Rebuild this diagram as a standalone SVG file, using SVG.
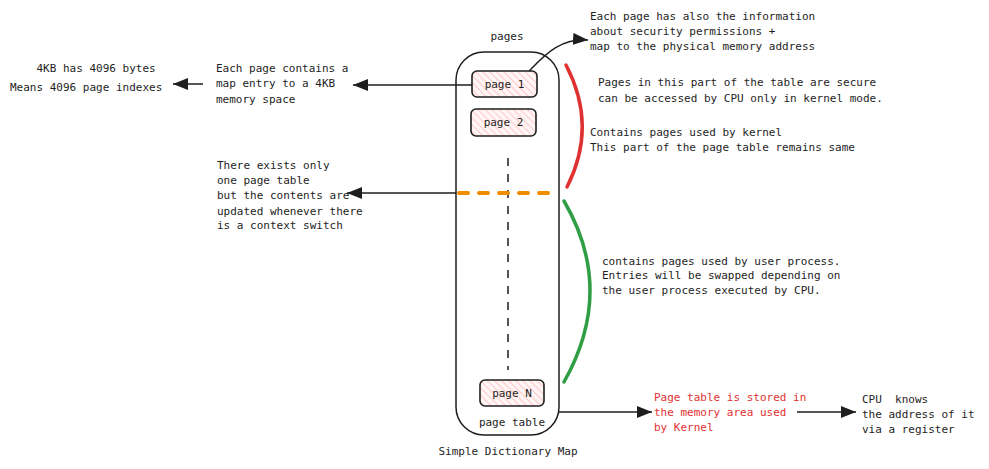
<svg xmlns="http://www.w3.org/2000/svg" width="989" height="469" viewBox="0 0 989 469">
<defs>
<style>
text{font-family:"DejaVu Sans Mono","Liberation Mono",monospace;font-size:11px;fill:#1e1e1e;white-space:pre}
.red{fill:#e03131}
.mid{text-anchor:middle}
.ln{fill:none;stroke:#1e1e1e;stroke-width:1.5}
.pg{fill:url(#hatch);stroke:#1e1e1e;stroke-width:1.6}
</style>
<pattern id="hatch" patternUnits="userSpaceOnUse" width="5" height="5" patternTransform="rotate(-45)">
<rect width="5" height="5" fill="#fff5f5"/>
<line x1="0" y1="0" x2="0" y2="5" stroke="#ffc9c9" stroke-width="2"/>
</pattern>
<marker id="ah" markerUnits="userSpaceOnUse" markerWidth="16" markerHeight="12" refX="15" refY="6" orient="auto">
<path d="M0 0 L15 6 L0 12 Z" fill="#1e1e1e"/>
</marker>
</defs>

<g id="page-table">
<rect x="456" y="52" width="103" height="383" rx="28" class="ln"/>
<text x="507" y="40" class="mid">pages</text>
<text x="512" y="426" class="mid">page table</text>
<line x1="508" y1="158" x2="508" y2="370" stroke="#1e1e1e" stroke-width="1.5" stroke-dasharray="8 8"/>
<line x1="459" y1="193" x2="548" y2="193" stroke="#f08c00" stroke-width="4" stroke-linecap="round" stroke-dasharray="9 11"/>
</g>
<g id="page1">
<rect x="472" y="71" width="65" height="26" rx="5" class="pg"/>
<text x="504.5" y="88" class="mid">page 1</text>
</g>
<g id="page2">
<rect x="471" y="109" width="65" height="27" rx="5" class="pg"/>
<text x="503.5" y="126" class="mid">page 2</text>
</g>
<g id="pageN">
<rect x="480" y="380" width="64" height="26" rx="5" class="pg"/>
<text x="512" y="397" class="mid">page N</text>
</g>

<g id="brackets">
<path d="M566 65 Q598 126 567 187" fill="none" stroke="#e03131" stroke-width="3.5" stroke-linecap="round"/>
<path d="M564 201 Q616 290 564 382" fill="none" stroke="#2f9e44" stroke-width="3.5" stroke-linecap="round"/>
</g>

<g id="connectors">
<line x1="472" y1="85" x2="353" y2="85" class="ln" marker-end="url(#ah)"/>
<line x1="203" y1="84" x2="173" y2="84" class="ln" marker-end="url(#ah)"/>
<path d="M529 71 C545 55 560 38 588 40" class="ln" marker-end="url(#ah)"/>
<line x1="456" y1="193" x2="347" y2="193" class="ln" marker-end="url(#ah)"/>
<line x1="559" y1="412" x2="652" y2="412" class="ln" marker-end="url(#ah)"/>
<line x1="797" y1="412" x2="856" y2="412" class="ln" marker-end="url(#ah)"/>
</g>

<g id="note-4kb">
<text x="10" y="72">    4KB has 4096 bytes</text>
<text x="10" y="91">Means 4096 page indexes</text>
</g>
<g id="note-entry">
<text x="216" y="72">Each page contains a</text>
<text x="216" y="87">map entry to a 4KB</text>
<text x="216" y="103">memory space</text>
</g>
<g id="note-security">
<text x="590" y="20">Each page has also the information</text>
<text x="590" y="35">about security permissions +</text>
<text x="590" y="50">map to the physical memory address</text>
</g>
<g id="note-secure">
<text x="598" y="86">Pages in this part of the table are secure</text>
<text x="598" y="102">can be accessed by CPU only in kernel mode.</text>
</g>
<g id="note-kernel">
<text x="590" y="136">Contains pages used by kernel</text>
<text x="590" y="151">This part of the page table remains same</text>
</g>
<g id="note-one-table">
<text x="217" y="169">There exists only</text>
<text x="217" y="184">one page table</text>
<text x="217" y="199">but the contents are</text>
<text x="217" y="215">updated whenever there</text>
<text x="217" y="229">is a context switch</text>
</g>
<g id="note-user">
<text x="602" y="265">contains pages used by user process.</text>
<text x="602" y="279">Entries will be swapped depending on</text>
<text x="602" y="294">the user process executed by CPU.</text>
</g>
<g id="note-stored">
<text x="654" y="401" class="red">Page table is stored in</text>
<text x="654" y="416" class="red">the memory area used</text>
<text x="654" y="431" class="red">by Kernel</text>
</g>
<g id="note-cpu">
<text x="862" y="403">CPU  knows</text>
<text x="862" y="418">the address of it</text>
<text x="862" y="433">via a register</text>
</g>
<g id="caption">
<text x="508" y="455" class="mid">Simple Dictionary Map</text>
</g>
</svg>
